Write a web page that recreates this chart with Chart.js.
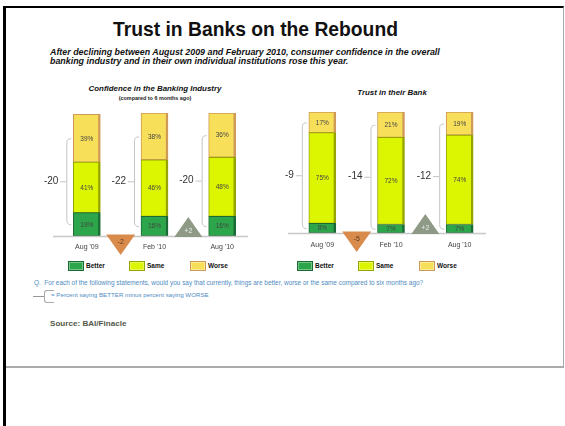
<!DOCTYPE html>
<html>
<head>
<meta charset="utf-8">
<script src="https://cdn.jsdelivr.net/npm/chart.js@4.4.1/dist/chart.umd.min.js"></script>
<style>
  body { margin:0; background:#fff; font-family:"Liberation Sans", Arial, sans-serif; }
  #page { position:relative; width:565px; height:426px; overflow:hidden; background:#fff; }
  .abs { position:absolute; white-space:nowrap; }
  .frame { position:absolute; left:3px; top:6px; width:557px; height:358px;
           border-top:2px solid #000; border-left:3px solid #000;
           border-right:1px solid #aaa; border-bottom:2px solid #aaa; }
  .frameTail { position:absolute; left:3px; top:366px; width:3px; height:60px; background:#000; }
  canvas { position:absolute; }
  .lg { position:absolute; font-weight:bold; font-size:6.5px; color:#111; line-height:10px; white-space:nowrap; }
  .lg span.box { display:inline-block; width:14px; height:8px; vertical-align:top; margin-right:2px;
                 box-shadow: inset 0 0 0 1px rgba(255,255,255,0.35); }
</style>
</head>
<body>
<div id="page">
  <div class="frame"></div>
  <div class="frameTail"></div>

  <div class="abs" style="left:113px;top:20px;font-size:19.3px;line-height:20px;font-weight:bold;color:#111;">Trust in Banks on the Rebound</div>
  <div class="abs" style="left:50px;top:48px;font-size:8.9px;line-height:9px;font-weight:bold;font-style:italic;color:#111;">After declining between August 2009 and February 2010, consumer confidence in the overall<br>banking industry and in their own individual institutions rose this year.</div>

  <div class="abs" style="left:55px;width:200px;text-align:center;top:84px;font-size:7.9px;line-height:10px;font-weight:bold;font-style:italic;color:#111;">Confidence in the Banking Industry</div>
  <div class="abs" style="left:55px;width:200px;text-align:center;top:95px;font-size:5.4px;line-height:6px;font-weight:bold;color:#222;">(compared to 6 months ago)</div>
  <div class="abs" style="left:292px;width:200px;text-align:center;top:88px;font-size:7.9px;line-height:10px;font-weight:bold;font-style:italic;color:#111;">Trust in their Bank</div>

  <canvas id="industryChart" width="260" height="180" style="left:20px;top:80px;"></canvas>
  <canvas id="bankChart" width="260" height="180" style="left:280px;top:80px;"></canvas>

  <div id="legendLeft"></div>
  <div id="legendRight"></div>

  <div class="abs" style="left:34px;top:279px;font-size:6.45px;line-height:8px;color:#4f8cc2;">Q.&nbsp; For each of the following statements, would you say that currently, things are better, worse or the same compared to six months ago?</div>
  <div class="abs" style="left:33px;top:296px;width:11px;height:1px;background:#999;"></div>
  <div class="abs" style="left:44px;top:290px;width:9px;height:11px;border:1px solid #aaa;border-right:none;border-radius:3px 0 0 3px;"></div>
  <div class="abs" style="left:51px;top:291px;font-size:6.2px;line-height:8px;color:#4f8cc2;">= Percent saying BETTER minus percent saying WORSE</div>

  <div class="abs" style="left:50px;top:319px;font-size:8.1px;line-height:10px;font-weight:bold;color:#55584a;">Source: BAI/Finacle</div>
</div>

<script>
// data
const periods = ["Aug '09", "Feb '10", "Aug '10"];
const seriesNames = ["Better", "Same", "Worse"];

const industryBetter = [19, 16, 16];
const industrySame = [41, 46, 48];
const industryWorse = [39, 38, 36];
const industryNet = [-20, -22, -20];
const industryChange = [-2, 2];

const bankBetter = [8, 7, 7];
const bankSame = [75, 72, 74];
const bankWorse = [17, 21, 19];
const bankNet = [-9, -14, -12];
const bankChange = [-5, 2];

// styles
const fills = ["#2da64b", "#dcf500", "#f8df5a"];
const edges = ["#1b6a36", "#96a400", "#cf9a58"];

// brackets, net labels, change triangles, axis and category labels
const decor = {
  id: "decor",
  afterDatasetsDraw(chart, args, opts) {
    const ctx = chart.ctx, a = chart.chartArea;
    const x = chart.scales.x, y = chart.scales.y;
    const ds = chart.data.datasets;
    ctx.save();

    // baseline
    ctx.strokeStyle = "#c8c8c8";
    ctx.lineWidth = 1.5;
    ctx.beginPath();
    ctx.moveTo(a.left, a.bottom + 0.5);
    ctx.lineTo(a.right - 8, a.bottom + 0.5);
    ctx.stroke();

    // segment labels
    ctx.font = "6.5px 'Liberation Sans', Arial";
    ctx.fillStyle = "#444";
    ctx.textAlign = "center";
    ctx.textBaseline = "middle";
    ds.forEach((d, di) => {
      chart.getDatasetMeta(di).data.forEach((bar, i) => {
        ctx.fillText(d.data[i] + "%", bar.x, (bar.y + bar.base) / 2 + 0.5);
      });
    });

    // brackets + net
    chart.getDatasetMeta(0).data.forEach((bar, i) => {
      const b = ds[0].data[i], s = ds[1].data[i], w = ds[2].data[i];
      const bx = bar.x - bar.width / 2 - 7;
      const top = y.getPixelForValue(b + s + w / 2);
      const bot = y.getPixelForValue(b / 2);
      const mid = (top + bot) / 2;
      ctx.strokeStyle = "#c4c4c4";
      ctx.lineWidth = 1;
      ctx.beginPath();
      ctx.moveTo(bx + 5, top + 0.5);
      ctx.quadraticCurveTo(bx + 0.5, top + 0.5, bx + 0.5, top + 4);
      ctx.lineTo(bx + 0.5, bot - 4);
      ctx.quadraticCurveTo(bx + 0.5, bot + 0.5, bx + 5, bot + 0.5);
      ctx.moveTo(bx, mid + 0.5);
      ctx.lineTo(bx - 6, mid + 0.5);
      ctx.stroke();
      ctx.font = "10px 'Liberation Sans', Arial";
      ctx.fillStyle = "#333";
      ctx.textAlign = "right";
      ctx.fillText(String(opts.net[i]), bx - 8, mid);
    });

    // category labels
    ctx.font = "7px 'Liberation Sans', Arial";
    ctx.fillStyle = "#444";
    ctx.textAlign = "center";
    periods.forEach((p, i) => {
      ctx.fillText(p, x.getPixelForValue(i), a.bottom + opts.labelGap);
    });

    // change triangles
    opts.change.forEach((c, i) => {
      const cx = x.getPixelForValue(i + 0.5);
      ctx.beginPath();
      if (c < 0) {
        ctx.moveTo(cx - 14.5, a.bottom - 1.5);
        ctx.lineTo(cx + 14.5, a.bottom - 1.5);
        ctx.lineTo(cx, a.bottom + 19);
        ctx.fillStyle = "#d98b4c";
      } else {
        ctx.moveTo(cx - 14, a.bottom + 1);
        ctx.lineTo(cx + 14, a.bottom + 1);
        ctx.lineTo(cx, a.bottom - 19);
        ctx.fillStyle = "#8f9a86";
      }
      ctx.closePath();
      ctx.fill();
      ctx.font = "7px 'Liberation Sans', Arial";
      ctx.fillStyle = c < 0 ? "#5a3a20" : "#eef0ea";
      ctx.fillText((c > 0 ? "+" : "") + c, cx, c < 0 ? a.bottom + 6 : a.bottom - 5);
    });
    ctx.restore();
  }
};

function makeChart(id, better, same, worse, net, change, pad, labelGap) {
  const values = [better, same, worse];
  return new Chart(document.getElementById(id), {
    type: "bar",
    data: {
      labels: periods,
      datasets: seriesNames.map((name, k) => ({
        label: name,
        data: values[k],
        backgroundColor: fills[k],
        borderColor: edges[k],
        borderWidth: { left: 1, right: 2.5, top: 1, bottom: 1 },
        borderSkipped: false
      }))
    },
    options: {
      responsive: false,
      animation: false,
      layout: { padding: pad },
      datasets: { bar: { barThickness: 27 } },
      scales: {
        x: { display: false, stacked: true },
        y: { display: false, stacked: true, min: 0, max: 100 }
      },
      plugins: {
        legend: { display: false },
        tooltip: { enabled: false },
        decor: { net: net, change: change, labelGap: labelGap }
      }
    },
    plugins: [decor]
  });
}

const industryChart = makeChart("industryChart", industryBetter, industrySame, industryWorse,
  industryNet, industryChange, { left: 33, right: 24, top: 33, bottom: 24 }, 11);
const bankChart = makeChart("bankChart", bankBetter, bankSame, bankWorse,
  bankNet, bankChange, { left: 8, right: 46, top: 32, bottom: 27 }, 12);

// legends
function buildLegend(elId, startX, step) {
  const host = document.getElementById(elId);
  seriesNames.forEach((name, k) => {
    const d = document.createElement("div");
    d.className = "lg";
    d.style.left = (startX + k * step) + "px";
    d.style.top = "261px";
    d.innerHTML = '<span class="box" style="background:' + fills[k] + ';border:1px solid ' + edges[k] + '"></span>' + name;
    host.appendChild(d);
  });
}
buildLegend("legendLeft", 68, 61);
buildLegend("legendRight", 297, 61);
</script>
</body>
</html>
